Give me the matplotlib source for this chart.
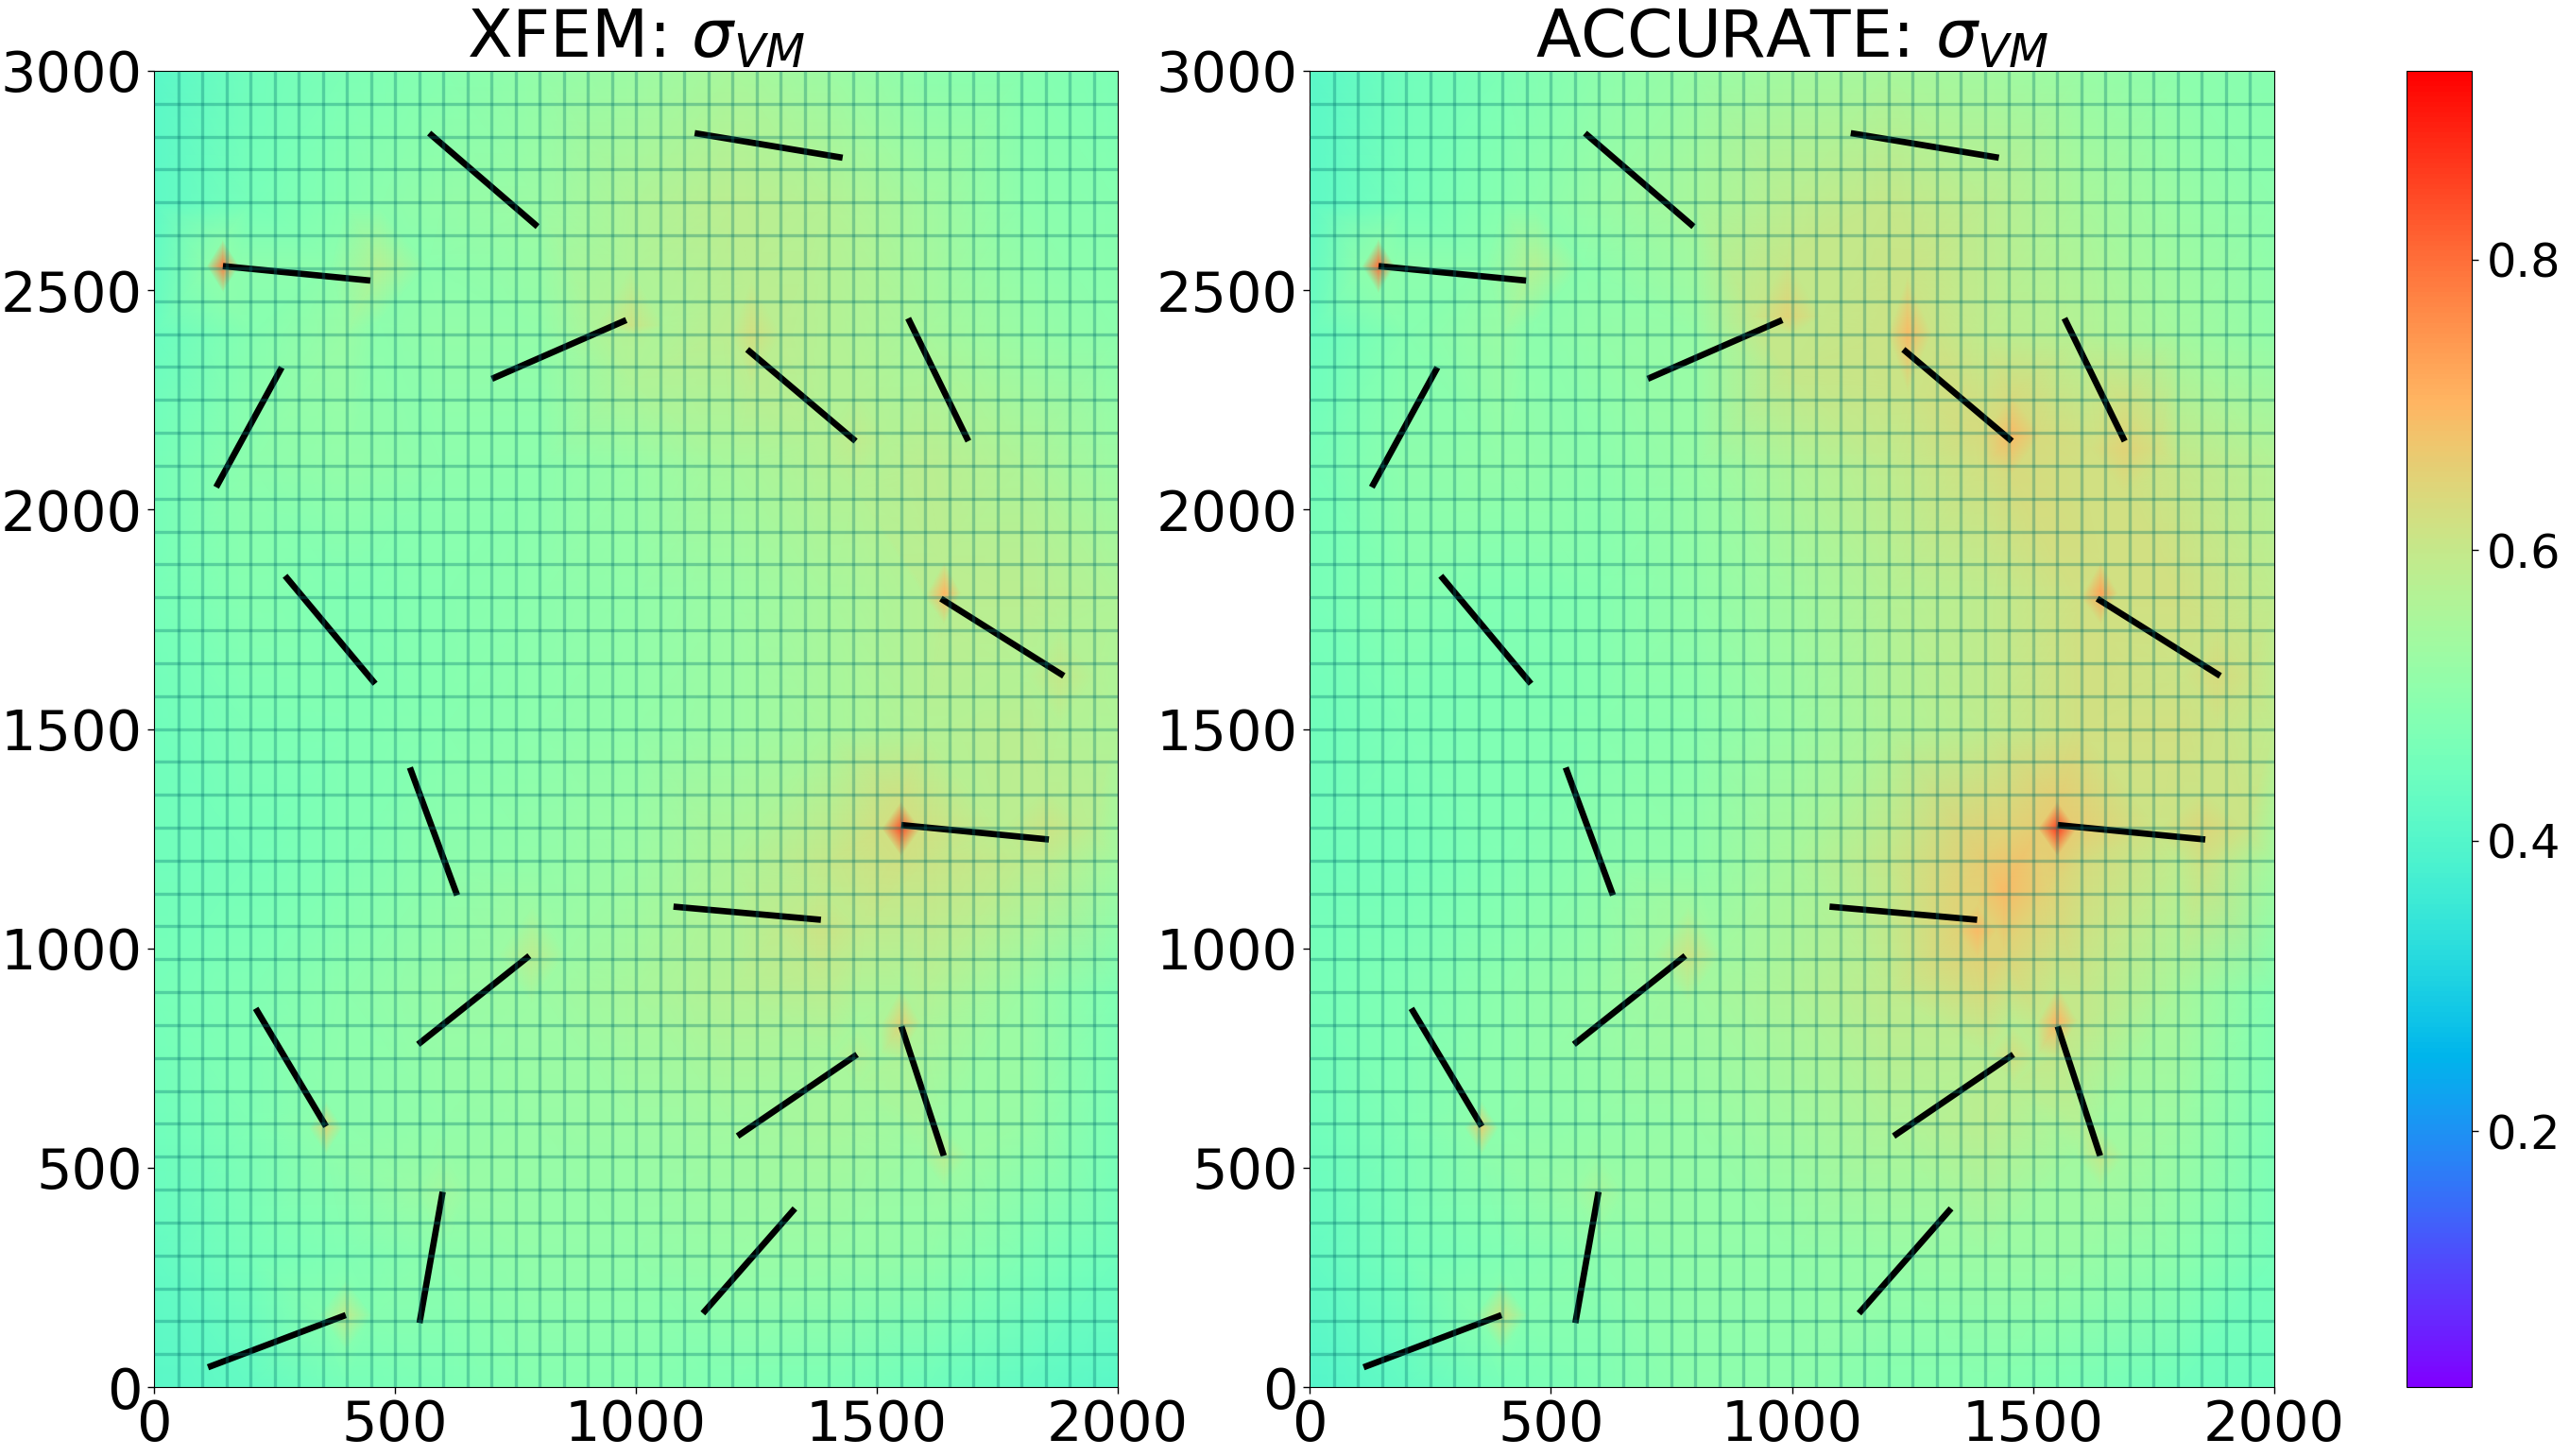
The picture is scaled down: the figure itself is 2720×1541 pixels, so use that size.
# recreate XFEM vs ACCURATE von Mises comparison

import numpy as np
import matplotlib
matplotlib.use("Agg")
import matplotlib.pyplot as plt
import matplotlib.tri as mtri
from matplotlib.cm import ScalarMappable
from matplotlib.colors import Normalize

W, H = 2720, 1541
VMIN, VMAX = 0.024, 0.93

field_x = [0, 200, 400, 600, 800, 1000, 1200, 1400, 1600, 1800, 2000]
field_y = [3000, 2700, 2400, 2100, 1800, 1500, 1200, 900, 600, 300, 0]

xfem_field = [
    [.41, .45, .47, .49, .51, .53, .55, .53, .50, .49, .47],
    [.42, .46, .49, .51, .53, .56, .58, .57, .54, .50, .49],
    [.44, .49, .52, .51, .51, .57, .58, .57, .55, .52, .50],
    [.46, .50, .51, .50, .50, .52, .55, .57, .58, .56, .53],
    [.46, .49, .48, .49, .50, .51, .53, .55, .57, .58, .56],
    [.45, .47, .48, .49, .50, .51, .53, .55, .57, .58, .56],
    [.45, .46, .48, .50, .51, .53, .56, .60, .61, .59, .54],
    [.46, .48, .50, .52, .53, .55, .57, .58, .57, .53, .48],
    [.45, .48, .50, .51, .52, .53, .54, .55, .55, .52, .47],
    [.43, .46, .48, .50, .51, .51, .52, .52, .51, .48, .45],
    [.41, .43, .46, .47, .49, .49, .48, .47, .45, .43, .41],
]

accurate_field = [
    [.41, .45, .47, .50, .52, .54, .55, .54, .52, .50, .49],
    [.42, .46, .49, .52, .55, .58, .60, .58, .55, .52, .50],
    [.44, .49, .52, .51, .52, .60, .61, .59, .57, .54, .51],
    [.46, .50, .51, .50, .52, .56, .59, .62, .62, .60, .57],
    [.46, .49, .48, .49, .51, .54, .57, .59, .62, .62, .59],
    [.45, .47, .48, .49, .50, .53, .56, .59, .62, .62, .59],
    [.45, .46, .48, .50, .51, .55, .60, .66, .63, .59, .54],
    [.46, .48, .50, .52, .54, .56, .59, .63, .60, .55, .49],
    [.45, .48, .50, .51, .52, .54, .56, .58, .57, .53, .48],
    [.43, .46, .48, .50, .51, .51, .52, .53, .52, .50, .46],
    [.40, .43, .46, .48, .50, .50, .49, .49, .47, .45, .44],
]

# crack end points
crack_x0 = [112, 551, 1139, 1211, 1551, 211, 548, 1078, 1551, 531, 272, 1633, 129, 701, 1231, 1565, 143, 571, 1122]
crack_y0 = [45, 146, 168, 572, 822, 863, 781, 1095, 1281, 1412, 1849, 1797, 2051, 2298, 2365, 2436, 2555, 2858, 2858]
crack_x1 = [398, 599, 1330, 1459, 1639, 357, 779, 1384, 1857, 629, 459, 1888, 265, 980, 1456, 1690, 449, 796, 1429]
crack_y1 = [164, 445, 407, 758, 527, 594, 983, 1065, 1248, 1121, 1603, 1621, 2324, 2432, 2156, 2156, 2522, 2645, 2802]

# stress spots at crack tips: x, y, peak, half width, half height, value at rim
xfem_spots = [
    (143, 2555, .78, 34, 60, .50),
    (468, 2558, .57, 100, 130, .50),
    (990, 2420, .61, 70, 130, .56),
    (1240, 2400, .62, 60, 120, .58),
    (1456, 2156, .59, 70, 110, .57),
    (1640, 1810, .70, 35, 70, .58),
    (1550, 1272, .84, 40, 62, .62),
    (1880, 1620, .60, 70, 110, .57),
    (1850, 1270, .61, 90, 90, .58),
    (1384, 1040, .61, 90, 100, .59),
    (1551, 830, .65, 40, 80, .56),
    (1639, 527, .58, 50, 70, .53),
    (785, 985, .58, 70, 110, .53),
    (357, 590, .63, 35, 60, .50),
    (398, 164, .59, 55, 80, .49),
    (599, 445, .54, 50, 80, .52),
    (1459, 758, .57, 50, 70, .55),
]

accurate_spots = [
    (143, 2555, .80, 34, 60, .50),
    (468, 2558, .57, 100, 130, .50),
    (990, 2440, .65, 70, 130, .60),
    (1240, 2400, .69, 50, 130, .61),
    (1456, 2170, .69, 60, 90, .63),
    (1690, 2140, .65, 70, 100, .62),
    (1640, 1810, .73, 35, 70, .62),
    (1550, 1272, .86, 40, 62, .66),
    (1880, 1620, .63, 70, 110, .61),
    (1850, 1270, .64, 90, 90, .61),
    (1440, 1130, .69, 90, 130, .65),
    (1384, 1040, .69, 40, 60, .65),
    (1551, 835, .70, 40, 80, .60),
    (1639, 527, .60, 50, 70, .54),
    (785, 985, .61, 70, 110, .54),
    (357, 590, .65, 35, 60, .50),
    (398, 164, .61, 55, 80, .49),
    (599, 445, .55, 50, 80, .52),
    (1459, 758, .62, 50, 70, .58),
]

xticks = [0, 500, 1000, 1500, 2000]
yticks = [0, 500, 1000, 1500, 2000, 2500, 3000]
cbar_ticks = [0.2, 0.4, 0.6, 0.8]
mesh_x = np.arange(50, 2000, 50)
mesh_y = np.arange(75, 3000, 75)


def px_axes(fig, x0, y0, x1, y1):
    return fig.add_axes([x0 / W, 1 - y1 / H, (x1 - x0) / W, (y1 - y0) / H])


def draw_panel(ax, field, spots, title):
    nodes = {}
    for j, y in enumerate(field_y):
        for i, x in enumerate(field_x):
            nodes[(x, y)] = field[j][i]
    for x, y, peak, rx, ry, rim in spots:
        nodes[(x, y)] = max(peak, nodes.get((x, y), 0))
        for pt in [(x - rx, y), (x + rx, y), (x, y - ry), (x, y + ry)]:
            if 0 < pt[0] < 2000 and 0 < pt[1] < 3000:
                nodes.setdefault(pt, rim)

    xs = np.array([p[0] for p in nodes], dtype=float)
    ys = np.array([p[1] for p in nodes], dtype=float)
    vals = np.array(list(nodes.values()))
    # triangulate with the cell shape squared up
    tri = mtri.Triangulation(xs, ys, mtri.Triangulation(xs, ys / 1.5).triangles)
    ax.tripcolor(tri, vals, shading="gouraud", cmap="rainbow", vmin=VMIN, vmax=VMAX, zorder=1)

    for k in range(len(crack_x0)):
        ax.plot([crack_x0[k], crack_x1[k]], [crack_y0[k], crack_y1[k]], color="black",
                lw=4.8, solid_capstyle="butt", zorder=2)
    ax.vlines(mesh_x, 0, 3000, color="#00706e", lw=2.4, alpha=0.32, zorder=3)
    ax.hlines(mesh_y, 0, 2000, color="#00706e", lw=2.4, alpha=0.32, zorder=3)

    ax.set_xlim(0, 2000)
    ax.set_ylim(0, 3000)
    ax.set_xticks(xticks)
    ax.set_yticks(yticks)
    ax.tick_params(labelsize=42.5, length=5, width=1, pad=4)
    ax.set_title(title, fontsize=50.2, pad=9)


fig = plt.figure(figsize=(W / 100, H / 100), dpi=100)

ax1 = px_axes(fig, 163, 75, 1183, 1468)
draw_panel(ax1, xfem_field, xfem_spots, r"XFEM: $\sigma_{VM}$")
ax2 = px_axes(fig, 1386, 75, 2407, 1468)
draw_panel(ax2, accurate_field, accurate_spots, r"ACCURATE: $\sigma_{VM}$")

cax = px_axes(fig, 2547, 75, 2616, 1468)
sm = ScalarMappable(norm=Normalize(VMIN, VMAX), cmap="rainbow")
cb = fig.colorbar(sm, cax=cax, ticks=cbar_ticks)
cb.ax.tick_params(labelsize=35.5, length=5, width=1, pad=6)

fig.savefig("out.png", dpi=100)
